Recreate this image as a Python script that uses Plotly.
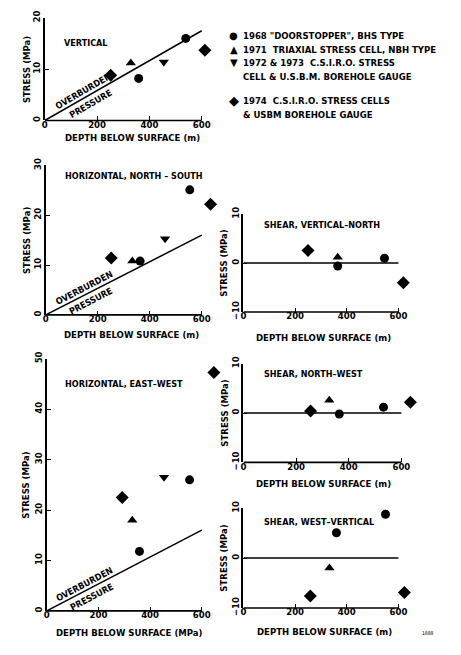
import math
import plotly.graph_objects as go

# The page body has an 8px default margin, so the figure is drawn from (8, 8)
W, H = 461, 655
OFF = 8
FW, FH = W - OFF, H - OFF
FONT = "DejaVu Sans Condensed"

# ---------------- data ----------------
legend_symbols = ["●", "▲", "▼", "◆"]
legend_lines = [
    '1968 "DOORSTOPPER", BHS TYPE',
    '1971  TRIAXIAL STRESS CELL, NBH TYPE',
    '1972 & 1973  C.S.I.R.O. STRESS',
    'CELL & U.S.B.M. BOREHOLE GAUGE',
    '1974  C.S.I.R.O. STRESS CELLS',
    '& USBM BOREHOLE GAUGE',
]
symbols = ["circle", "triangle-up", "triangle-down", "diamond"]

x_ticks = [0, 200, 400, 600]

# Panel 1 : vertical
v_circle_d, v_circle_s = [359, 539], [8.2, 16.0]
v_triup_d, v_triup_s = [329], [11.2]
v_tridn_d, v_tridn_s = [455], [11.4]
v_diam_d, v_diam_s = [252, 612], [8.8, 13.7]

# Panel 2 : horizontal north-south
ns_circle_d, ns_circle_s = [363, 554], [10.8, 25.1]
ns_triup_d, ns_triup_s = [333], [10.8]
ns_tridn_d, ns_tridn_s = [459], [15.3]
ns_diam_d, ns_diam_s = [252, 634], [11.4, 22.2]

# Panel 3 : horizontal east-west
ew_circle_d, ew_circle_s = [359, 553], [11.8, 26.0]
ew_triup_d, ew_triup_s = [331], [18.0]
ew_tridn_d, ew_tridn_s = [454], [26.5]
ew_diam_d, ew_diam_s = [292, 647], [22.5, 47.3]

# Panel 4 : shear vertical-north
vn_circle_d, vn_circle_s = [365, 546], [-0.6, 1.0]
vn_triup_d, vn_triup_s = [365], [1.2]
vn_tridn_d, vn_tridn_s = [], []
vn_diam_d, vn_diam_s = [250, 619], [2.6, -4.0]

# Panel 5 : shear north-west
nw_circle_d, nw_circle_s = [364, 532], [-0.2, 1.2]
nw_triup_d, nw_triup_s = [326], [2.6]
nw_tridn_d, nw_tridn_s = [], []
nw_diam_d, nw_diam_s = [255, 634], [0.4, 2.2]

# Panel 6 : shear west-vertical
wv_circle_d, wv_circle_s = [360, 550], [5.1, 8.8]
wv_triup_d, wv_triup_s = [333], [-2.0]
wv_tridn_d, wv_tridn_s = [], []
wv_diam_d, wv_diam_s = [259, 623], [-7.6, -6.9]

# overburden pressure lines (depth 0 -> 600 m)
overburden_depth = [0, 600]
overburden_vert = [0, 17.5]
overburden_horiz = [0, 16.0]
shear_zero_depth = [0, 600]
shear_zero = [0, 0]

panel_titles = ["VERTICAL", "HORIZONTAL, NORTH – SOUTH", "HORIZONTAL, EAST–WEST",
                "SHEAR, VERTICAL–NORTH", "SHEAR, NORTH–WEST", "SHEAR, WEST–VERTICAL"]
x_titles = ["DEPTH BELOW SURFACE (m)", "DEPTH BELOW SURFACE (m)", "DEPTH BELOW SURFACE (MPa)",
            "DEPTH BELOW SURFACE (m)", "DEPTH BELOW SURFACE (m)", "DEPTH BELOW SURFACE (m)"]
y_title = "STRESS (MPa)"


def X(px):
    return (px - OFF) / FW


def Y(py):
    return 1 - (py - OFF) / FH


# ---------------- layout geometry (reference pixels) ----------------
# (x at 0 m, x at 600 m, y at top of range, y at bottom of range)
boxes = [
    (42, 200, 11, 116),
    (43, 200, 162, 315),
    (44, 200, 360, 618),
    (242, 398, 212, 312),
    (242, 401, 365, 466),
    (242, 398, 513, 615),
]
X_MAX = 660
y_ranges = [[0, 20], [0, 30], [0, 50], [-10, 10], [-10, 10], [-10, 10]]
y_tickvals = [[0, 10, 20], [0, 10, 20, 30], [0, 10, 20, 30, 40, 50],
              [-10, 0, 10], [-10, 0, 10], [-10, 0, 10]]
title_pos = [(59, 37), (60, 173), (60, 386), (261, 223), (261, 376), (261, 527)]
xtitle_pos = [(130, 133), (129, 335), (127, 640), (323, 338), (323, 488), (324, 639)]
ytitle_x = [23, 23, 23, 222, 222, 222]
legend_sym_y = [29, 43, 57, 96]
legend_sym_size = [10, 10, 10, 13]
legend_text_y = [29, 43, 57, 71, 96, 110]

panels = [
    [(v_circle_d, v_circle_s), (v_triup_d, v_triup_s), (v_tridn_d, v_tridn_s), (v_diam_d, v_diam_s)],
    [(ns_circle_d, ns_circle_s), (ns_triup_d, ns_triup_s), (ns_tridn_d, ns_tridn_s), (ns_diam_d, ns_diam_s)],
    [(ew_circle_d, ew_circle_s), (ew_triup_d, ew_triup_s), (ew_tridn_d, ew_tridn_s), (ew_diam_d, ew_diam_s)],
    [(vn_circle_d, vn_circle_s), (vn_triup_d, vn_triup_s), (vn_tridn_d, vn_tridn_s), (vn_diam_d, vn_diam_s)],
    [(nw_circle_d, nw_circle_s), (nw_triup_d, nw_triup_s), (nw_tridn_d, nw_tridn_s), (nw_diam_d, nw_diam_s)],
    [(wv_circle_d, wv_circle_s), (wv_triup_d, wv_triup_s), (wv_tridn_d, wv_tridn_s), (wv_diam_d, wv_diam_s)],
]
marker_sizes = {"circle": 9, "triangle-up": 9, "triangle-down": 9, "diamond": 10}

fig = go.Figure()
font_base = dict(family=FONT, color="black", size=9, weight="bold")
tick_font = dict(family=FONT, size=9.5, color="black", weight="bold")
title_font = dict(family=FONT, size=9.5, color="black", weight="bold")

for i, (box, yr, ytv) in enumerate(zip(boxes, y_ranges, y_tickvals)):
    k = "" if i == 0 else str(i + 1)
    xa, ya = "x" + k, "y" + k
    x0, x600, yt, yb = box
    ppu = (x600 - x0) / 600.0
    xend = x0 + X_MAX * ppu
    fig.update_layout(**{
        "xaxis" + k: dict(domain=[X(x0), X(xend)], range=[0, X_MAX], anchor=ya,
                          tickvals=x_ticks, ticks="inside", ticklen=4, tickwidth=1.2,
                          tickcolor="black", showline=False,
                          showgrid=False, zeroline=False, ticklabelstandoff=-3,
                          tickfont=tick_font),
        "yaxis" + k: dict(domain=[Y(yb), Y(yt)], range=yr, anchor=xa,
                          tickvals=ytv, ticks="inside", ticklen=4, tickwidth=1.2,
                          tickcolor="black", tickangle=-90,
                          showline=True, linecolor="black", linewidth=1.6,
                          showgrid=False, zeroline=False, ticklabelstandoff=-1,
                          tickfont=tick_font),
    })
    # x-axis baseline from 0 to 600 m
    fig.add_shape(type="line", xref=xa, yref=ya + " domain", x0=0, x1=600, y0=0, y1=0,
                  line=dict(color="black", width=1.6))
    # reference line
    if i < 3:
        oy = overburden_vert if i == 0 else overburden_horiz
        fig.add_trace(go.Scatter(x=overburden_depth, y=oy, mode="lines", xaxis=xa, yaxis=ya,
                                 line=dict(color="black", width=1.5), showlegend=False,
                                 hoverinfo="skip"))
        slope = oy[1] / overburden_depth[1]
        ppy = (yb - yt) / (yr[1] - yr[0])
        ang = -math.degrees(math.atan(slope * ppy / ppu))
        fig.add_annotation(x=148, y=148 * slope + 1.4, xref=xa, yref=ya, text="OVERBURDEN",
                           textangle=ang, showarrow=False, font=font_base)
        fig.add_annotation(x=174, y=174 * slope - 1.8, xref=xa, yref=ya, text="PRESSURE",
                           textangle=ang, showarrow=False, font=font_base)
    else:
        fig.add_trace(go.Scatter(x=shear_zero_depth, y=shear_zero, mode="lines", xaxis=xa, yaxis=ya,
                                 line=dict(color="black", width=1.5), showlegend=False,
                                 hoverinfo="skip"))
    for j, (d, s) in enumerate(panels[i]):
        fig.add_trace(go.Scatter(x=d, y=s, mode="markers", xaxis=xa, yaxis=ya,
                                 marker=dict(symbol=symbols[j], color="black",
                                             size=marker_sizes[symbols[j]]),
                                 cliponaxis=False, showlegend=False))
    tx, ty = title_pos[i]
    fig.add_annotation(x=X(tx), y=Y(ty), xref="paper", yref="paper", text=panel_titles[i],
                       xanchor="left", yanchor="middle", showarrow=False, font=font_base)
    # axis titles
    xtx, xty = xtitle_pos[i]
    fig.add_annotation(x=X(xtx), y=Y(xty), xref="paper", yref="paper", text=x_titles[i],
                       xanchor="center", yanchor="middle", showarrow=False, font=title_font)
    fig.add_annotation(x=X(ytitle_x[i]), y=Y((yt + yb) / 2), xref="paper", yref="paper",
                       text=y_title, textangle=-90, xanchor="center", yanchor="middle",
                       showarrow=False, font=title_font)

# legend (key) drawn as text
for sym, sy, ss in zip(legend_symbols, legend_sym_y, legend_sym_size):
    fig.add_annotation(x=X(232), y=Y(sy), xref="paper", yref="paper", text=sym,
                       xanchor="center", yanchor="middle", showarrow=False,
                       font=dict(family="DejaVu Sans", size=ss, color="black"))
for line, ly in zip(legend_lines, legend_text_y):
    fig.add_annotation(x=X(240), y=Y(ly), xref="paper", yref="paper", text=line,
                       xanchor="left", yanchor="middle", showarrow=False, font=title_font)

fig.add_annotation(x=X(436), y=Y(646), xref="paper", yref="paper", text="1888",
                   showarrow=False, font=dict(family=FONT, size=5, color="black"))

fig.update_layout(
    width=FW, height=FH,
    margin=dict(l=0, r=0, t=0, b=0),
    paper_bgcolor="white", plot_bgcolor="white",
    showlegend=False,
)

fig.write_html("out.html")
